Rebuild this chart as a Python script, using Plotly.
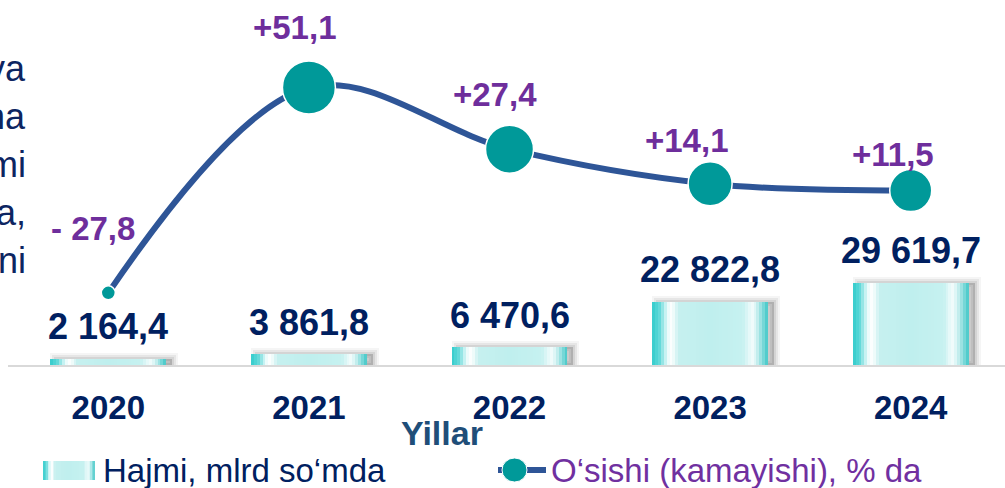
import plotly.graph_objects as go

# data
years = ["2020", "2021", "2022", "2023", "2024"]
volume = [2164.4, 3861.8, 6470.6, 22822.8, 29619.7]
volume_labels = ["2 164,4", "3 861,8", "6 470,6", "22 822,8", "29 619,7"]
growth = [-27.8, 51.1, 27.4, 14.1, 11.5]
growth_labels = ["- 27,8", "+51,1", "+27,4", "+14,1", "+11,5"]
side_text = ["va", "na", "mi", "a,", "ni"]

FONT = "Liberation Sans, Arial, sans-serif"
NAVY = "#002060"
PURPLE = "#6E2E9C"
LINE_BLUE = "#2E5597"
TEAL = "#009999"

W, H = 1005, 488
ML, MR, MT, MB = 8, 0, 10, 123
PW, PH = W - ML - MR, H - MT - MB
BAR_W = 0.578
UNIT = PW / 4.97  # px per category

xs = list(range(len(years)))


def px_x(p):
    return (p - ML) / PW


def px_y(p):
    return (H - MB - p) / PH


def hex2rgb(h):
    h = h.lstrip("#")
    return [int(h[i:i + 2], 16) for i in (0, 2, 4)]


stops = [(0.00, "#33CCCC"), (0.06, "#5FD8D8"), (0.13, "#E8FAFA"), (0.17, "#FFFFFF"),
         (0.23, "#C6F0EF"), (0.50, "#BFEFEE"), (0.78, "#C6F1F0"), (0.86, "#F2FCFC"),
         (0.90, "#D5F3F3"), (0.96, "#7AD8D8"), (1.00, "#40C6C6")]


def grad(t):
    for (p0, c0), (p1, c1) in zip(stops, stops[1:]):
        if p0 <= t <= p1:
            a, b = hex2rgb(c0), hex2rgb(c1)
            f = (t - p0) / (p1 - p0)
            return "rgb(%d,%d,%d)" % tuple(round(a[k] + (b[k] - a[k]) * f) for k in range(3))
    return stops[-1][1]


fig = go.Figure()

# soft bar shadows (up/right)
sh_off = -BAR_W / 2 + 6 / UNIT
for lw, a in [(12, 0.04), (8, 0.06), (4, 0.08)]:
    fig.add_trace(go.Bar(x=xs, y=volume, width=BAR_W, offset=sh_off,
                         marker=dict(color=f"rgba(0,0,0,{a})", line=dict(color=f"rgba(0,0,0,{a})", width=lw)),
                         hoverinfo="skip", showlegend=False))

# gradient bars, drawn as overlapping strips
N = 40
for i in range(N):
    fig.add_trace(go.Bar(x=xs, y=volume, width=BAR_W * (1 - i / N), offset=-BAR_W / 2 + BAR_W * i / N,
                         marker=dict(color=grad((i + 0.5) / N), line=dict(width=0)),
                         hoverinfo="skip", showlegend=False))

# growth line
fig.add_trace(go.Scatter(x=xs, y=growth, yaxis="y2", mode="lines+markers",
                         line=dict(color=LINE_BLUE, width=6, shape="spline", smoothing=1),
                         marker=dict(size=[14, 53, 48, 44, 42], color=TEAL, opacity=1,
                                     line=dict(color="white", width=1.5)),
                         hoverinfo="skip", showlegend=False))

ann = []
for x, v, t in zip(xs, volume, volume_labels):
    ann.append(dict(x=x, y=v, xref="x", yref="y", text=f"<b>{t}</b>", showarrow=False, yshift=32,
                    yanchor="middle", font=dict(family=FONT, size=36, color=NAVY)))

g_dx = [-15, -14, -15, -23, -18]
g_dy = [64, 60, 55, 43, 36]
for x, v, t, dx, dy in zip(xs, growth, growth_labels, g_dx, g_dy):
    ann.append(dict(x=x, y=v, xref="x", yref="y2", text=f"<b>{t}</b>", showarrow=False, xshift=dx, yshift=dy,
                    yanchor="middle", font=dict(family=FONT, size=33, color=PURPLE)))

# cut-off text on the left edge
for i, t in enumerate(side_text):
    ann.append(dict(x=px_x(28), y=px_y(68 + i * 48), xref="paper", yref="paper", text=t, showarrow=False,
                    xanchor="right", yanchor="middle",
                    font=dict(family="Liberation Sans Narrow, " + FONT, size=36, color="#0D2561")))

# axis title
ann.append(dict(x=px_x(442), y=px_y(433), xref="paper", yref="paper", text="<b>Yillar</b>", showarrow=False,
                yanchor="middle", font=dict(family=FONT, size=34, color="#1F4E79")))

# legend
shapes = []
sw_l, sw_r, sw_t, sw_b = 43, 95, 461, 480
M = 20
for i in range(M):
    shapes.append(dict(type="rect", xref="paper", yref="paper",
                       x0=px_x(sw_l + (sw_r - sw_l) * i / M), x1=px_x(sw_r),
                       y0=px_y(sw_b), y1=px_y(sw_t), fillcolor=grad((i + 0.5) / M), line=dict(width=0)))
shapes.append(dict(type="line", xref="paper", yref="paper", x0=px_x(498), x1=px_x(546), y0=px_y(470), y1=px_y(470),
                   line=dict(color=LINE_BLUE, width=6)))
shapes.append(dict(type="circle", xref="paper", yref="paper", x0=px_x(502), x1=px_x(527), y0=px_y(482), y1=px_y(458),
                   fillcolor=TEAL, line=dict(color="white", width=1)))
ann.append(dict(x=px_x(101), y=px_y(470), xref="paper", yref="paper", text="Hajmi, mlrd so‘mda", showarrow=False,
                xanchor="left", yanchor="middle", font=dict(family=FONT, size=33, color=NAVY)))
ann.append(dict(x=px_x(549), y=px_y(470), xref="paper", yref="paper", text="O‘sishi (kamayishi), % da",
                showarrow=False, xanchor="left", yanchor="middle", font=dict(family=FONT, size=33, color="#7030A0")))

fig.update_layout(
    width=W, height=H, margin=dict(l=ML, r=MR, t=MT, b=MB),
    barmode="overlay", bargap=0, plot_bgcolor="white", paper_bgcolor="white",
    showlegend=False, annotations=ann, shapes=shapes, hovermode=False,
    xaxis=dict(range=[-0.5, 4.47], tickvals=xs, ticktext=years, showgrid=False, zeroline=False,
               showline=True, linecolor="#D9D9D9", linewidth=2, ticks="", ticklabelstandoff=12,
               tickfont=dict(family=FONT, size=33, color=NAVY, weight="bold")),
    yaxis=dict(range=[0, PH * 360], showgrid=False, zeroline=False, showline=False,
               showticklabels=False, ticks=""),
    yaxis2=dict(range=[-144.5 / 2.603, 210.5 / 2.603], overlaying="y", showgrid=False, zeroline=False,
                showline=False, showticklabels=False, ticks=""),
)

# drop the default 8px body margin so the figure fills the window
fig.write_html("out.html", config={"displayModeBar": False},
               post_script="document.body.style.margin='0';")
